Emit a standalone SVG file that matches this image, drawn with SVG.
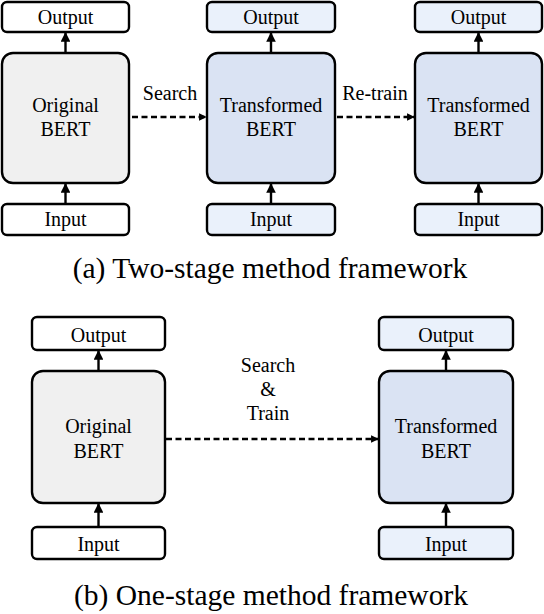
<svg xmlns="http://www.w3.org/2000/svg" width="544" height="614" viewBox="0 0 544 614" font-family="'Liberation Serif', 'Times New Roman', 'DejaVu Serif', serif">
<style>
.box{stroke:#000;stroke-width:2.4}
.w{fill:#fff}
.g{fill:#f0f0f0}
.b{fill:#dae3f3}
.lb{fill:#eaf1fb}
text{font-family:'Liberation Serif', 'Times New Roman', 'DejaVu Serif', serif;fill:#000}
.t{font-size:20px;text-anchor:middle}
.cap{font-size:29.5px;text-anchor:middle}
.c{stroke:#000;stroke-width:2.4;fill:none}
.d{stroke:#000;stroke-width:2.4;fill:none;stroke-dasharray:6 3.5}
</style>
<defs>
<marker id="ah" viewBox="0 0 10 10" refX="9" refY="5" markerWidth="4" markerHeight="4" orient="auto" markerUnits="strokeWidth">
<path d="M0,0 L10,5 L0,10 z" fill="#000"/>
</marker>
<marker id="ahd" viewBox="0 0 10 10" refX="9" refY="5" markerWidth="3.2" markerHeight="3.2" orient="auto" markerUnits="strokeWidth">
<path d="M0,0 L10,5 L0,10 z" fill="#000"/>
</marker>
</defs>

<g id="a-out1"><rect class="box w" x="2" y="2" width="127" height="30" rx="5"/><text class="t" x="65.5" y="24" font-family="Liberation Serif, serif">Output</text></g>
<g id="a-bert1"><rect class="box g" x="2" y="53" width="127" height="130" rx="11"/><text class="t" x="65.5" y="112" font-family="Liberation Serif, serif">Original</text><text class="t" x="65.5" y="136" font-family="Liberation Serif, serif">BERT</text></g>
<g id="a-in1"><rect class="box w" x="2" y="204" width="127" height="31" rx="5"/><text class="t" x="65.5" y="226" font-family="Liberation Serif, serif">Input</text></g>

<g id="a-out2"><rect class="box lb" x="207" y="2" width="128" height="30" rx="5"/><text class="t" x="271" y="24" font-family="Liberation Serif, serif">Output</text></g>
<g id="a-bert2"><rect class="box b" x="207" y="53" width="128" height="130" rx="11"/><text class="t" x="271" y="112" font-family="Liberation Serif, serif">Transformed</text><text class="t" x="271" y="136" font-family="Liberation Serif, serif">BERT</text></g>
<g id="a-in2"><rect class="box lb" x="207" y="204" width="128" height="31" rx="5"/><text class="t" x="271" y="226" font-family="Liberation Serif, serif">Input</text></g>

<g id="a-out3"><rect class="box lb" x="415" y="2" width="127" height="30" rx="5"/><text class="t" x="478.5" y="24" font-family="Liberation Serif, serif">Output</text></g>
<g id="a-bert3"><rect class="box b" x="415" y="53" width="127" height="130" rx="11"/><text class="t" x="478.5" y="112" font-family="Liberation Serif, serif">Transformed</text><text class="t" x="478.5" y="136" font-family="Liberation Serif, serif">BERT</text></g>
<g id="a-in3"><rect class="box lb" x="415" y="204" width="127" height="31" rx="5"/><text class="t" x="478.5" y="226" font-family="Liberation Serif, serif">Input</text></g>

<g id="b-out1"><rect class="box w" x="32" y="317" width="133" height="33" rx="5"/><text class="t" x="98.5" y="342" font-family="Liberation Serif, serif">Output</text></g>
<g id="b-bert1"><rect class="box g" x="32" y="371" width="133" height="132" rx="11"/><text class="t" x="98.5" y="433" font-family="Liberation Serif, serif">Original</text><text class="t" x="98.5" y="458" font-family="Liberation Serif, serif">BERT</text></g>
<g id="b-in1"><rect class="box w" x="32" y="527" width="133" height="32" rx="5"/><text class="t" x="98.5" y="551" font-family="Liberation Serif, serif">Input</text></g>

<g id="b-out2"><rect class="box lb" x="379" y="317" width="134" height="33" rx="5"/><text class="t" x="446" y="342" font-family="Liberation Serif, serif">Output</text></g>
<g id="b-bert2"><rect class="box b" x="379" y="371" width="134" height="132" rx="11"/><text class="t" x="446" y="433" font-family="Liberation Serif, serif">Transformed</text><text class="t" x="446" y="458" font-family="Liberation Serif, serif">BERT</text></g>
<g id="b-in2"><rect class="box lb" x="379" y="527" width="134" height="32" rx="5"/><text class="t" x="446" y="551" font-family="Liberation Serif, serif">Input</text></g>

<g id="connectors">
<line class="c" x1="65.5" y1="53" x2="65.5" y2="33" marker-end="url(#ah)"/>
<line class="c" x1="65.5" y1="204" x2="65.5" y2="184" marker-end="url(#ah)"/>
<line class="c" x1="271" y1="53" x2="271" y2="33" marker-end="url(#ah)"/>
<line class="c" x1="271" y1="204" x2="271" y2="184" marker-end="url(#ah)"/>
<line class="c" x1="478.5" y1="53" x2="478.5" y2="33" marker-end="url(#ah)"/>
<line class="c" x1="478.5" y1="204" x2="478.5" y2="184" marker-end="url(#ah)"/>
<line class="d" x1="132" y1="117" x2="206" y2="117" marker-end="url(#ahd)"/>
<line class="d" x1="337" y1="117" x2="414" y2="117" marker-end="url(#ahd)"/>
<line class="c" x1="98.5" y1="371" x2="98.5" y2="351" marker-end="url(#ah)"/>
<line class="c" x1="98.5" y1="527" x2="98.5" y2="504" marker-end="url(#ah)"/>
<line class="c" x1="446" y1="371" x2="446" y2="351" marker-end="url(#ah)"/>
<line class="c" x1="446" y1="527" x2="446" y2="504" marker-end="url(#ah)"/>
<line class="d" x1="166" y1="439" x2="378" y2="439" marker-end="url(#ahd)"/>
<text class="t" x="170" y="100" font-family="Liberation Serif, serif">Search</text>
<text class="t" x="375" y="100" font-family="Liberation Serif, serif">Re-train</text>
<text class="t" x="268" y="372" font-family="Liberation Serif, serif">Search</text>
<text class="t" x="268" y="396" font-family="Liberation Serif, serif">&amp;</text>
<text class="t" x="268" y="420" font-family="Liberation Serif, serif">Train</text>
</g>

<text class="cap" x="270" y="278" font-family="Liberation Serif, serif">(a) Two-stage method framework</text>
<text class="cap" x="271" y="605" font-family="Liberation Serif, serif">(b) One-stage method framework</text>
</svg>
